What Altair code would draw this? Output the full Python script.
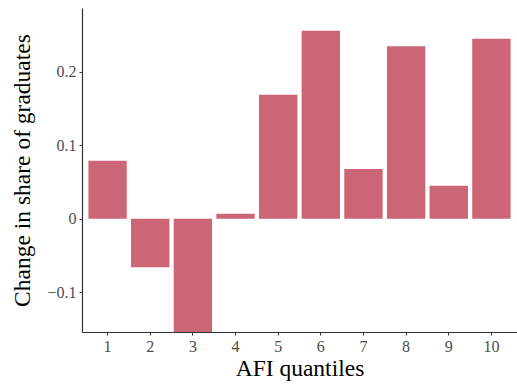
import altair as alt
import pandas as pd

quantiles = ["1", "2", "3", "4", "5", "6", "7", "8", "9", "10"]
change = [0.079, -0.066, -0.175, 0.007, 0.169, 0.256, 0.068, 0.235, 0.045, 0.245]

df = pd.DataFrame({"q": quantiles, "v": change})

FONT = "Liberation Serif"

chart = alt.Chart(df).mark_bar(color="#CC6677", clip=True).encode(
    x=alt.X("q:N", sort=quantiles,
            scale=alt.Scale(paddingInner=0.1, paddingOuter=0.15),
            axis=alt.Axis(title="AFI quantiles", labelAngle=0, labelFont=FONT,
                          labelFontSize=16, labelColor="#4d4d4d", titleFont=FONT,
                          titleFontSize=23.5, titleFontWeight="normal", titleColor="black",
                          domainColor="#333333", domainWidth=1.2, tickColor="#333333",
                          tickSize=3, labelPadding=3, titlePadding=2)),
    y=alt.Y("v:Q", scale=alt.Scale(domain=[-0.154, 0.287], nice=False, zero=False),
            axis=alt.Axis(title="Change in share of graduates", values=[-0.1, 0, 0.1, 0.2],
                          labelExpr="datum.value == 0 ? '0' : (datum.value < 0 ? '\u2212' : '') + format(abs(datum.value), '.1f')",
                          grid=False, labelFont=FONT, labelFontSize=16, labelColor="#4d4d4d",
                          titleFont=FONT, titleFontSize=23.5, titleFontWeight="normal",
                          titleColor="black", domainColor="#333333", domainWidth=1.2,
                          tickColor="#333333", tickSize=3, labelPadding=3, titlePadding=12)),
).properties(
    width=435, height=324,
    background="white",
    autosize=alt.AutoSizeParams(type="none"),
    padding={"left": 82, "top": 8, "right": 0, "bottom": 53},
).configure_view(strokeWidth=0)

chart.save("out.html", embed_options={"renderer": "svg", "actions": False})
